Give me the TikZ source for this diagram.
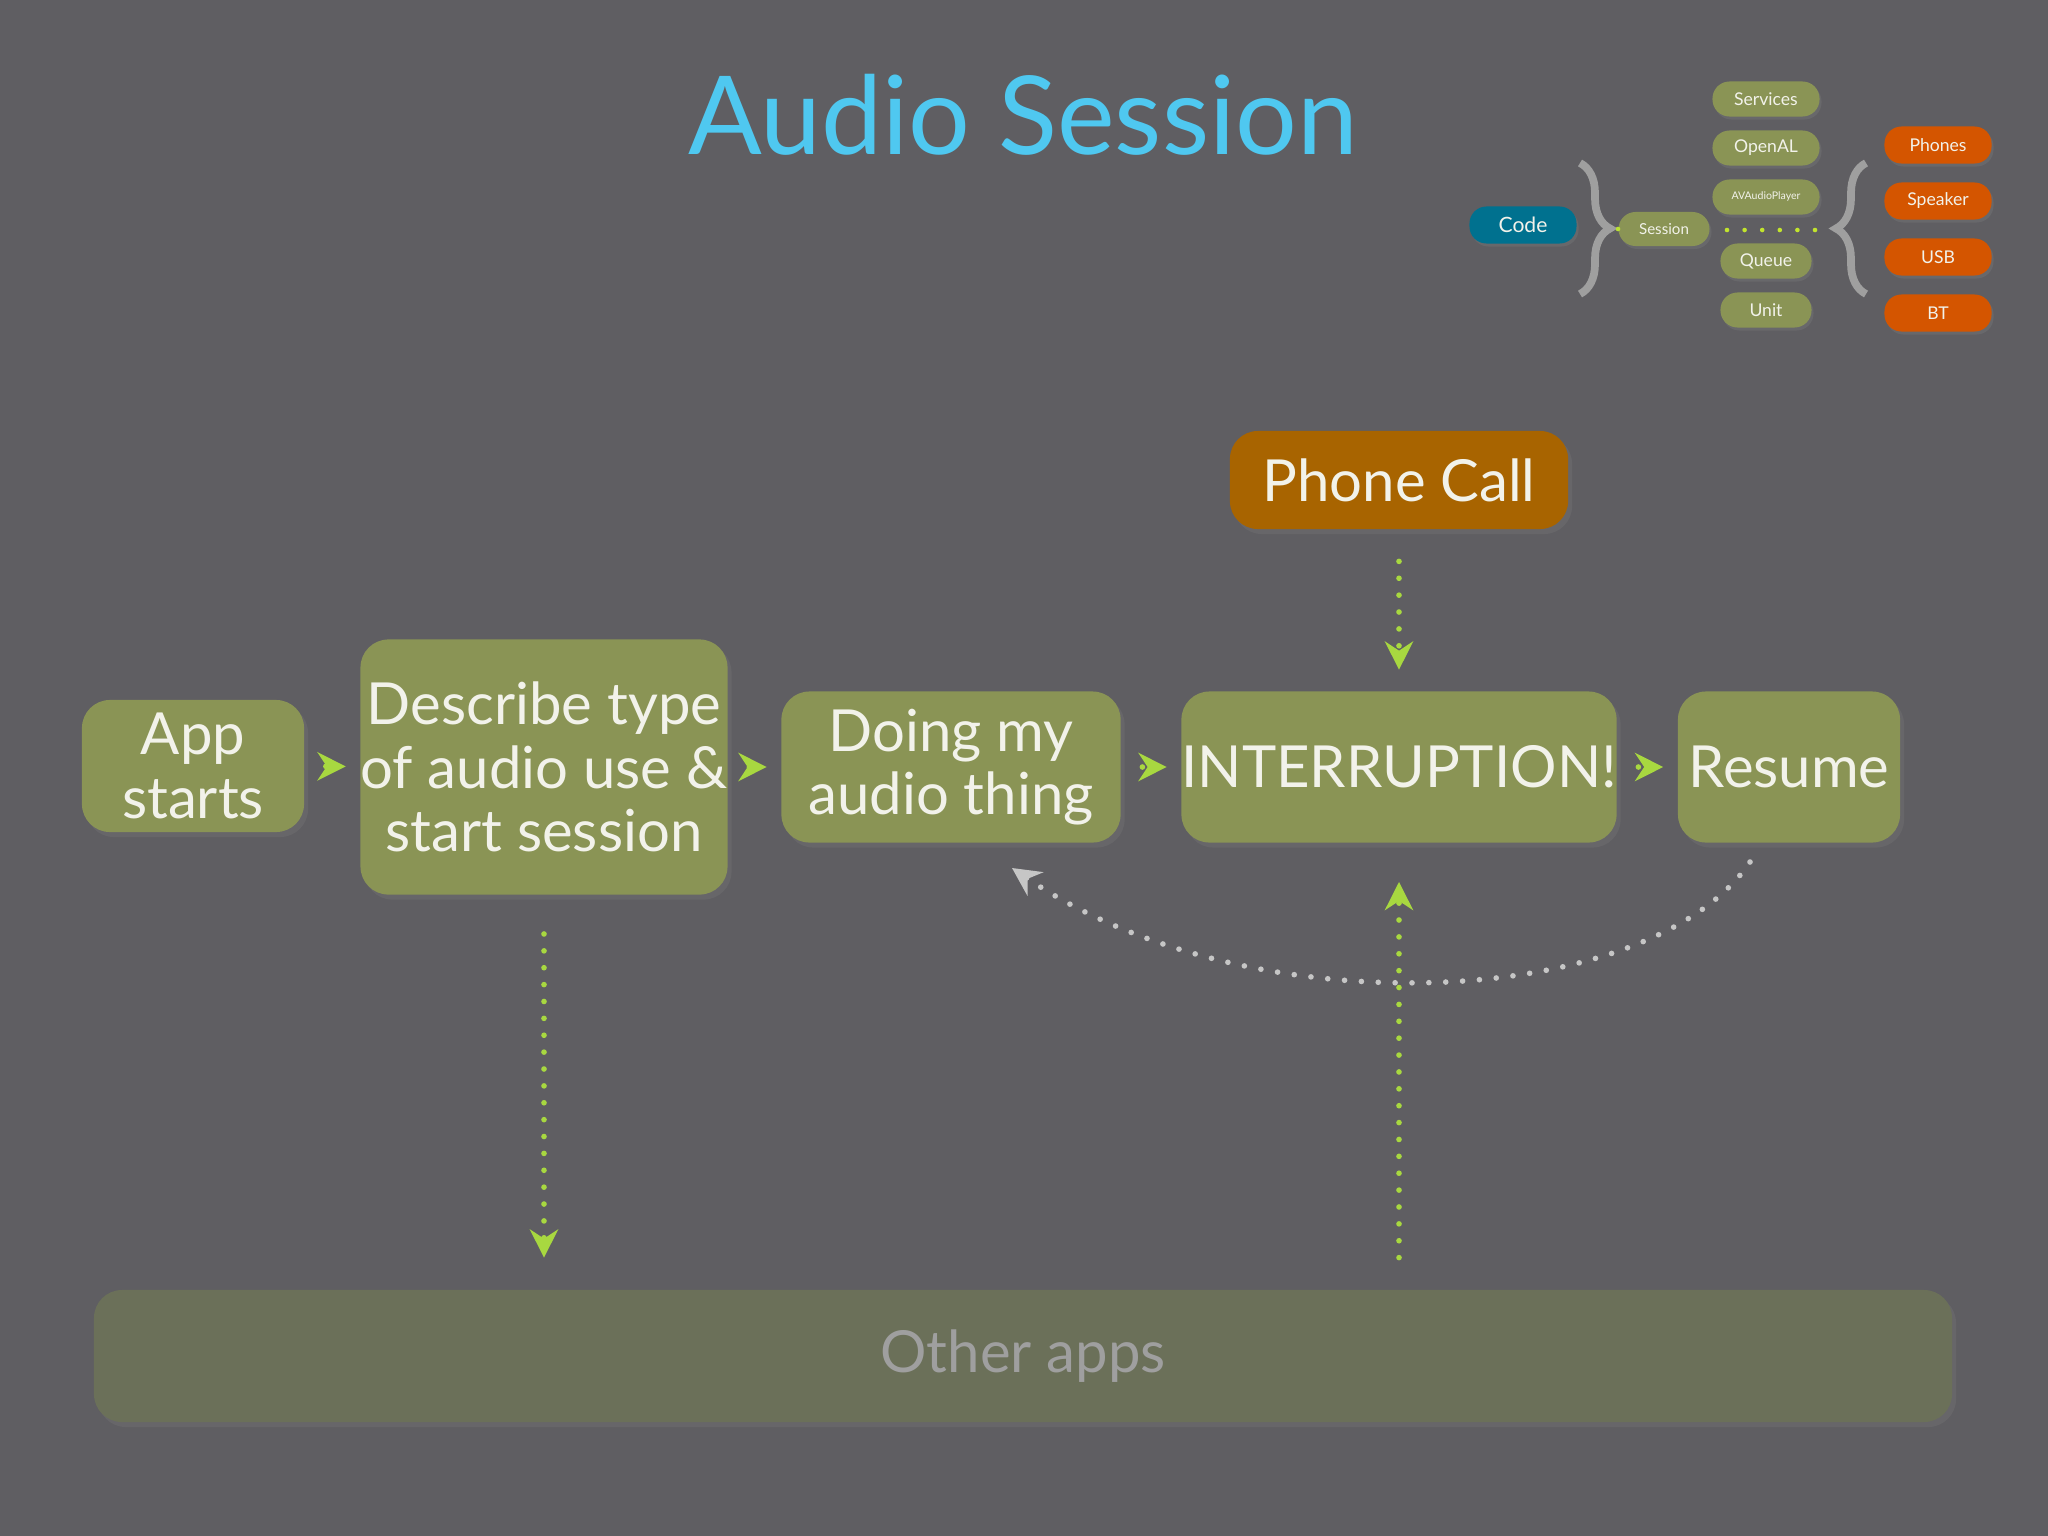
\documentclass[tikz,border=0pt]{standalone}
\usepackage{fontspec}
\setmainfont{Lato}
\usetikzlibrary{arrows.meta,decorations.pathreplacing,shadows}
\definecolor{bg}{HTML}{5F5E62}
\definecolor{olive}{HTML}{8A9455}
\definecolor{oth}{HTML}{6B7059}
\definecolor{orng}{HTML}{A86400}
\definecolor{tit}{HTML}{4FC8F0}
\definecolor{grn}{HTML}{A8D840}
\definecolor{blu}{HTML}{00718F}
\definecolor{red}{HTML}{D45500}
\definecolor{txt}{HTML}{F2F2EA}
\tikzset{
  box/.style={fill=olive,rounded corners=0.28cm,text=txt,align=center,inner sep=0pt,
     font=\fontsize{16.5}{18}\selectfont,drop shadow={opacity=0.25,shadow xshift=0.04cm,shadow yshift=-0.05cm}},
  pill/.style={fill=olive,rounded corners=0.17cm,text=txt,inner sep=0pt,minimum height=0.35cm,
     font=\fontsize{5}{6}\selectfont,drop shadow={opacity=0.3,shadow xshift=0.02cm,shadow yshift=-0.03cm}},
  dots/.style={draw=grn,line width=1.6pt,line cap=round,dash pattern=on 0pt off 4.8pt},
  arr/.style={dots,-{Stealth[length=8pt,width=8pt,fill=grn]}},
  brc/.style={draw=gray!75,line width=2.2pt,decorate,decoration={brace,amplitude=0.3cm}}
}
\begin{document}
\begin{tikzpicture}[x=0.01cm,y=-0.01cm]
\fill[bg] (0,0) rectangle (2048,1536);
\node[text=tit,font=\fontsize{31}{34}\selectfont] (title) at (1023,115) {Audio Session};

\node[box,minimum width=2.22cm,minimum height=1.32cm] (app) at (193,766) {App\\starts};
\node[box,minimum width=3.38cm,minimum height=2.55cm] (desc) at (544,767) {Describe type\\of audio use \&\\start session};
\node[box,minimum width=3.39cm,minimum height=1.51cm] (doing) at (951,767) {Doing my\\audio thing};
\node[box,minimum width=4.19cm,minimum height=1.51cm] (intr) at (1399,767) {INTERRUPTION!};
\node[box,minimum width=2.22cm,minimum height=1.51cm] (res) at (1789,767) {Resume};
\node[box,fill=orng,minimum width=3.38cm,minimum height=0.98cm] (phone) at (1399,480) {Phone Call};
\node[box,fill=oth,text=gray!75,minimum width=18.57cm,minimum height=1.32cm] (other) at (1023,1356) {Other apps};

\draw[arr,shorten <=6pt,shorten >=4pt] (app) -- (desc);
\draw[arr,shorten <=6pt,shorten >=4pt] (desc) -- (doing);
\draw[arr,shorten <=6pt,shorten >=4pt] (doing) -- (intr);
\draw[arr,shorten <=6pt,shorten >=4pt] (intr) -- (res);
\draw[arr,shorten <=9pt,shorten >=6pt] (phone) -- (intr);
\draw[arr,shorten <=11pt,shorten >=9pt] (desc) -- (desc |- other.north);
\draw[arr,shorten <=9pt,shorten >=11pt] (intr |- other.north) -- (intr);
\coordinate (cs) at (1750,862);
\coordinate (ce) at (1012,868);
\draw[dots,draw=gray!45,-{Stealth[length=8pt,width=8pt,fill=gray!45]}] (cs) .. controls (1650,1010) and (1250,1030) .. (ce);

% top-right diagram
\node[pill,fill=blu,minimum width=1.07cm,minimum height=0.37cm,font=\fontsize{6}{7}\selectfont] (code) at (1523,225) {Code};
\node[pill,minimum width=0.91cm,minimum height=0.34cm,font=\fontsize{4.3}{5}\selectfont] (sess) at (1664,229) {Session};
\node[pill,minimum width=1.07cm] (serv) at (1766,99) {Services};
\node[pill,minimum width=1.07cm] (oal) at (1766,148) {OpenAL};
\node[pill,minimum width=1.07cm,font=\fontsize{3}{4}\selectfont] (avp) at (1766,197) {AVAudioPlayer};
\node[pill,minimum width=0.91cm] (que) at (1766,261) {Queue};
\node[pill,minimum width=0.91cm] (unit) at (1766,310) {Unit};
\foreach \n/\y/\t in {ph/145/Phones,sp/201/Speaker,usb/257/USB,bt/313/BT}
  \node[pill,fill=red,minimum width=1.07cm,minimum height=0.37cm] (\n) at (1938,\y) {\t};
\draw[brc] (1580,163) -- (1580,294);
\draw[brc] (1866,294) -- (1866,163);
\fill[grn!80!yellow] (1618,229) circle (2.3);
\foreach \x in {1727,1744.6,1762.2,1779.8,1797.4,1815} \fill[grn!70!yellow] (\x,230) circle (2.3);
\end{tikzpicture}
\end{document}
